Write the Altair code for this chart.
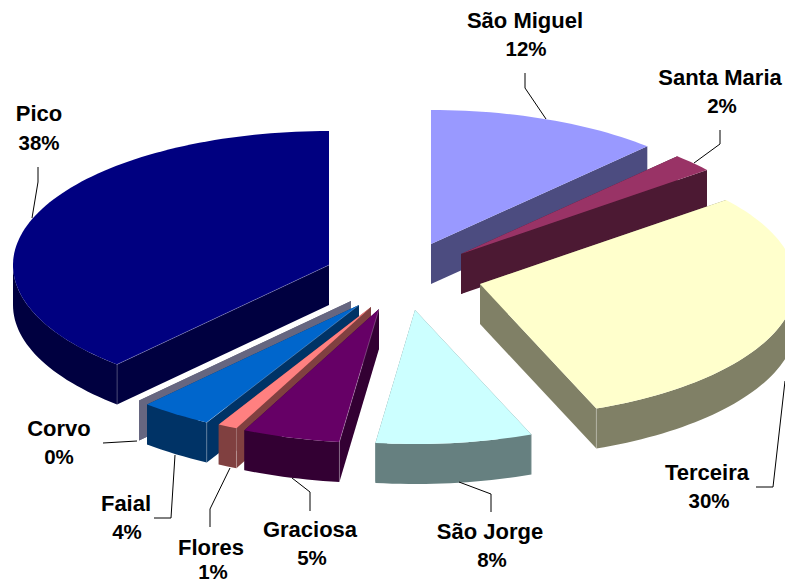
import math
import altair as alt
import pandas as pd

# Share of each island, clockwise from twelve o'clock
islands = ["São Miguel", "Santa Maria", "Terceira", "São Jorge", "Graciosa",
           "Flores", "Faial", "Corvo", "Pico"]
shares = [12.0, 2.2, 29.8, 8.0, 5.0, 1.0, 3.7, 0.0, 38.3]
top_colors = ["#9999FF", "#993366", "#FFFFCC", "#CCFFFF", "#660066",
              "#FF8080", "#0066CC", "#CCCCFF", "#000080"]
wall_colors = ["#4C4C80", "#4C1933", "#808066", "#668080", "#330033",
               "#804040", "#003366", "#666680", "#000040"]

W, H = 785, 584
RX, RY, DEPTH = 316, 134, 40

# Where each exploded slice has its tip
tips = {
    "São Miguel": (431, 244), "Santa Maria": (461, 254), "Terceira": (480, 284),
    "São Jorge": (415, 310), "Graciosa": (379, 309), "Flores": (371, 307),
    "Faial": (359, 305), "Corvo": (351, 301), "Pico": (329, 265),
}
# Back-to-front painting order
paint_order = ["Pico", "Corvo", "Faial", "Flores", "Graciosa",
               "São Miguel", "Santa Maria", "Terceira", "São Jorge"]

# Label centres: name line and percentage line
label_at = {
    "São Miguel": ((525, 21), (526, 50)), "Santa Maria": ((720, 78), (722, 107)),
    "Terceira": ((707, 473), (709, 502)), "São Jorge": ((490, 532), (492, 561)),
    "Graciosa": ((310, 530), (312, 559)), "Flores": ((211, 548), (213, 573)),
    "Faial": ((126, 504), (127, 533)), "Corvo": ((59, 429), (59, 458)),
    "Pico": ((39, 114), (39, 144)),
}
leaders = {
    "São Miguel": [(525, 73), (525, 88), (546, 119)],
    "Santa Maria": [(720, 130), (720, 144), (694, 163)],
    "Terceira": [(756, 487), (773, 487), (785, 381)],
    "São Jorge": [(491, 512), (491, 494), (459, 482)],
    "Graciosa": [(310, 511), (310, 492), (292, 478)],
    "Flores": [(210, 527), (210, 509), (230, 468)],
    "Faial": [(154, 518), (171, 518), (175, 455)],
    "Corvo": [(103, 443), (137, 441)],
    "Pico": [(38, 167), (38, 182), (32, 218)],
}
# Faint highlights on the extruded corners: (island, boundary index)
corner_edges = [("Pico", 0), ("Terceira", 1), ("Faial", 0), ("Flores", 0),
                ("Graciosa", 0), ("São Jorge", 0)]
radial_edges = [("Pico", 0), ("Graciosa", 0), ("Faial", 0)]

# Slice boundaries in degrees from the running total of the shares
bounds = {}
running = 0.0
for name, share in zip(islands, shares):
    bounds[name] = (running * 3.6, (running + share) * 3.6)
    running += share


def rim(tip, deg, drop=0.0):
    a = math.radians(deg)
    return (tip[0] + RX * math.sin(a), tip[1] - RY * math.cos(a) + drop)


def arc(tip, start, end, drop=0.0):
    steps = max(int((end - start) / 1.5), 1)
    return [rim(tip, start + (end - start) * i / steps, drop) for i in range(steps + 1)]


rows = []
piece_no = 0


def add_piece(points, color):
    global piece_no
    piece_no += 1
    for seq, (x, y) in enumerate(points):
        rows.append({"piece": f"p{piece_no:03d}", "seq": seq, "x": x, "y": y, "paint": color})


for name in paint_order:
    i = islands.index(name)
    tip = tips[name]
    start, end = bounds[name]
    top, wall = top_colors[i], wall_colors[i]
    tip_low = (tip[0], tip[1] + DEPTH)
    # cut faces along both radii
    for deg in (start, end):
        add_piece([tip, rim(tip, deg), rim(tip, deg, DEPTH), tip_low], wall)
    # curved outer face, only on the half turned towards the viewer
    lo, hi = max(start, 90), min(end, 270)
    if hi > lo:
        add_piece(arc(tip, lo, hi) + arc(tip, lo, hi, DEPTH)[::-1], wall)
    # upper face
    if end > start:
        add_piece([tip] + arc(tip, start, end), top)

df = pd.DataFrame(rows)

seam_rows = []
for name, which in corner_edges:
    p = rim(tips[name], bounds[name][which])
    sid = f"c-{name}"
    seam_rows.append({"seam": sid, "seq": 0, "x": p[0], "y": p[1]})
    seam_rows.append({"seam": sid, "seq": 1, "x": p[0], "y": p[1] + DEPTH})
for name, which in radial_edges:
    p = rim(tips[name], bounds[name][which])
    sid = f"r-{name}"
    seam_rows.append({"seam": sid, "seq": 0, "x": tips[name][0], "y": tips[name][1]})
    seam_rows.append({"seam": sid, "seq": 1, "x": p[0], "y": p[1]})

scale_x = alt.Scale(domain=[0, W], range=[0, W], nice=False, zero=False)
scale_y = alt.Scale(domain=[0, H], range=[0, H], nice=False, zero=False)
enc_x = alt.X("x:Q", scale=scale_x, axis=None)
enc_y = alt.Y("y:Q", scale=scale_y, axis=None)

faces = alt.Chart(df).mark_line(
    filled=True, interpolate="linear-closed", clip=True
).encode(
    x=enc_x, y=enc_y, order="seq:Q", detail="piece:N",
    color=alt.Color("paint:N", scale=None, legend=None),
)

seam_lines = alt.Chart(pd.DataFrame(seam_rows)).mark_line(
    color="#FFFFFF", strokeWidth=0.7, opacity=0.35
).encode(x=enc_x, y=enc_y, order="seq:Q", detail="seam:N")

leader_rows = [
    {"island": n, "seq": s, "x": p[0], "y": p[1]}
    for n, pts in leaders.items() for s, p in enumerate(pts)
]
leader_lines = alt.Chart(pd.DataFrame(leader_rows)).mark_line(
    color="#000000", strokeWidth=1
).encode(x=enc_x, y=enc_y, order="seq:Q", detail="island:N")

name_rows = []
percent_rows = []
for name, share in zip(islands, shares):
    (nx, ny), (px, py) = label_at[name]
    name_rows.append({"text": name, "x": nx, "y": ny})
    percent_rows.append({"text": f"{round(share)}%", "x": px, "y": py})

name_labels = alt.Chart(pd.DataFrame(name_rows)).mark_text(
    font="Liberation Sans", fontWeight="bold", fontSize=22, color="#000000",
    align="center", baseline="middle"
).encode(x=enc_x, y=enc_y, text="text:N")
percent_labels = alt.Chart(pd.DataFrame(percent_rows)).mark_text(
    font="Liberation Sans", fontWeight="bold", fontSize=20.5, color="#000000",
    align="center", baseline="middle"
).encode(x=enc_x, y=enc_y, text="text:N")

chart = alt.layer(faces, seam_lines, leader_lines, name_labels, percent_labels).properties(
    width=W, height=H, background="#FFFFFF",
    padding=0, autosize=alt.AutoSizeParams(type="none"),
).configure_view(stroke=None)

chart.save("out.html", embed_options={"renderer": "svg", "actions": False})
